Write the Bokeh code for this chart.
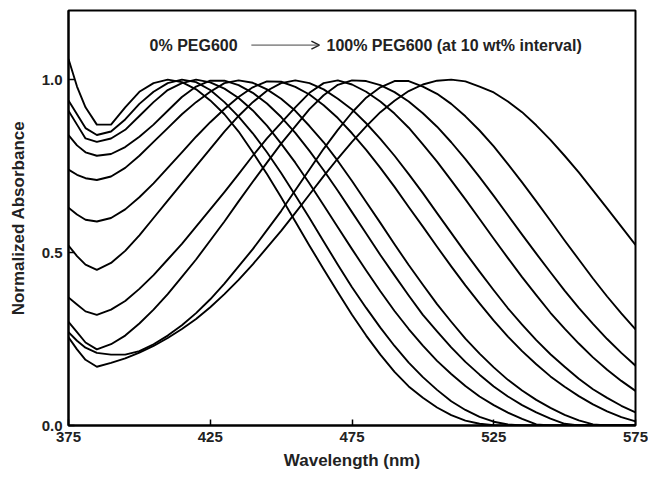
from bokeh.plotting import figure
from bokeh.models import Range1d, FixedTicker, Arrow, OpenHead, Label
from bokeh.embed import file_html
from bokeh.resources import INLINE

# ---- data ----
wavelength = [375, 378, 381, 385, 390, 395, 400, 405, 410, 415, 420, 425, 430, 435, 440,
              445, 450, 455, 460, 465, 470, 475, 480, 485, 490, 495, 500, 505, 510, 515,
              520, 525, 530, 535, 540, 545, 550, 555, 560, 565, 570, 575]

peg_0 = [1.06, 0.98, 0.92, 0.87, 0.87, 0.92, 0.965, 0.99, 1.0, 0.993, 0.972, 0.94, 0.90, 0.85, 0.79,
         0.727, 0.66, 0.59, 0.52, 0.452, 0.385, 0.32, 0.26, 0.205, 0.155, 0.113, 0.08, 0.052, 0.03, 0.014,
         0.005, 0.001, 0, 0, 0, 0, 0, 0, 0, 0, 0, 0]
peg_10 = [0.94, 0.90, 0.86, 0.84, 0.85, 0.885, 0.93, 0.965, 0.99, 1.0, 0.993, 0.97, 0.935, 0.893, 0.845,
          0.79, 0.73, 0.666, 0.60, 0.532, 0.465, 0.40, 0.34, 0.283, 0.23, 0.182, 0.14, 0.103, 0.07, 0.045,
          0.025, 0.011, 0.003, 0, 0, 0, 0, 0, 0, 0, 0, 0]
peg_20 = [0.91, 0.87, 0.83, 0.82, 0.83, 0.855, 0.895, 0.935, 0.97, 0.99, 1.0, 0.992, 0.974, 0.947, 0.911,
          0.867, 0.815, 0.76, 0.70, 0.637, 0.573, 0.51, 0.448, 0.388, 0.331, 0.279, 0.231, 0.187, 0.149, 0.114,
          0.084, 0.059, 0.037, 0.019, 0.003, 0, 0, 0, 0, 0, 0, 0]
peg_30 = [0.84, 0.81, 0.79, 0.78, 0.785, 0.805, 0.835, 0.87, 0.91, 0.95, 0.98, 0.997, 0.997, 0.984, 0.962,
          0.931, 0.892, 0.846, 0.794, 0.738, 0.679, 0.617, 0.555, 0.493, 0.434, 0.376, 0.32, 0.272, 0.226, 0.184,
          0.147, 0.113, 0.084, 0.059, 0.038, 0.02, 0.005, 0, 0, 0, 0, 0]
peg_40 = [0.74, 0.725, 0.715, 0.71, 0.72, 0.745, 0.78, 0.82, 0.86, 0.90, 0.935, 0.965, 0.99, 0.998, 0.991,
          0.972, 0.945, 0.91, 0.866, 0.819, 0.765, 0.707, 0.646, 0.586, 0.524, 0.464, 0.407, 0.351, 0.30, 0.251,
          0.208, 0.168, 0.132, 0.101, 0.074, 0.051, 0.031, 0.015, 0.003, 0, 0, 0]
peg_50 = [0.63, 0.61, 0.595, 0.59, 0.60, 0.625, 0.66, 0.70, 0.745, 0.79, 0.835, 0.877, 0.915, 0.95, 0.978,
          0.995, 0.994, 0.979, 0.957, 0.926, 0.889, 0.845, 0.797, 0.745, 0.69, 0.632, 0.575, 0.517, 0.46, 0.405,
          0.353, 0.303, 0.257, 0.215, 0.177, 0.142, 0.112, 0.085, 0.061, 0.041, 0.024, 0.012]
peg_60 = [0.52, 0.49, 0.465, 0.45, 0.47, 0.505, 0.55, 0.60, 0.65, 0.70, 0.75, 0.80, 0.85, 0.895, 0.935,
          0.968, 0.99, 0.998, 0.99, 0.972, 0.945, 0.914, 0.874, 0.829, 0.78, 0.727, 0.672, 0.614, 0.557, 0.50,
          0.445, 0.391, 0.339, 0.292, 0.247, 0.206, 0.17, 0.135, 0.105, 0.08, 0.057, 0.038]
peg_70 = [0.37, 0.35, 0.33, 0.32, 0.335, 0.36, 0.395, 0.435, 0.48, 0.525, 0.575, 0.625, 0.675, 0.727, 0.78,
          0.83, 0.875, 0.92, 0.962, 0.99, 0.998, 0.986, 0.965, 0.937, 0.902, 0.861, 0.813, 0.763, 0.709, 0.654,
          0.597, 0.54, 0.484, 0.429, 0.377, 0.326, 0.28, 0.237, 0.197, 0.161, 0.129, 0.10]
peg_80 = [0.30, 0.27, 0.24, 0.22, 0.235, 0.26, 0.295, 0.335, 0.38, 0.43, 0.48, 0.535, 0.59, 0.648, 0.705,
          0.76, 0.815, 0.865, 0.915, 0.955, 0.985, 0.998, 0.996, 0.984, 0.964, 0.937, 0.903, 0.864, 0.819, 0.77,
          0.718, 0.664, 0.608, 0.552, 0.497, 0.443, 0.39, 0.34, 0.294, 0.25, 0.21, 0.173]
peg_90 = [0.27, 0.245, 0.225, 0.21, 0.205, 0.205, 0.215, 0.235, 0.26, 0.29, 0.325, 0.365, 0.41, 0.46, 0.51,
          0.565, 0.62, 0.68, 0.74, 0.80, 0.855, 0.905, 0.948, 0.978, 0.996, 0.996, 0.98, 0.959, 0.93, 0.894,
          0.853, 0.807, 0.756, 0.703, 0.648, 0.592, 0.535, 0.48, 0.425, 0.373, 0.324, 0.278]
peg_100 = [0.255, 0.22, 0.19, 0.17, 0.181, 0.194, 0.211, 0.23, 0.253, 0.279, 0.308, 0.342, 0.38, 0.421, 0.466,
           0.514, 0.563, 0.615, 0.668, 0.721, 0.772, 0.82, 0.865, 0.906, 0.939, 0.967, 0.986, 0.997, 1.0, 0.995,
           0.98, 0.963, 0.937, 0.906, 0.868, 0.826, 0.78, 0.732, 0.68, 0.628, 0.575, 0.522]

series = [peg_0, peg_10, peg_20, peg_30, peg_40, peg_50, peg_60, peg_70, peg_80, peg_90, peg_100]

x_ticks = [375, 425, 475, 525, 575]
y_ticks = [0.0, 0.5, 1.0]
y_tick_labels = {0.0: "0.0", 0.5: "0.5", 1.0: "1.0"}

label_left = "0% PEG600"
label_right = "100% PEG600 (at 10 wt% interval)"

# ---- figure ----
FONT = "Liberation Sans"
p = figure(width=648, height=480, output_backend="svg", toolbar_location=None,
           x_range=Range1d(375, 575), y_range=Range1d(0, 1.2),
           min_border_left=68, min_border_right=13, min_border_top=10, min_border_bottom=55)

for s in series:
    p.line(wavelength, s, line_color="black", line_width=1.9, line_join="round")

p.xgrid.visible = False
p.ygrid.visible = False
p.outline_line_color = "black"
p.outline_line_width = 2
p.background_fill_color = "white"
p.border_fill_color = "white"

p.xaxis.ticker = FixedTicker(ticks=x_ticks)
p.yaxis.ticker = FixedTicker(ticks=y_ticks)
p.yaxis.major_label_overrides = y_tick_labels
for ax in (p.xaxis, p.yaxis):
    ax.axis_line_width = 2
    ax.axis_line_color = "black"
    ax.major_tick_in = 6
    ax.major_tick_out = 0
    ax.major_tick_line_width = 1.5
    ax.minor_tick_line_color = None
    ax.major_label_text_font = FONT
    ax.major_label_text_font_size = "15px"
    ax.major_label_text_font_style = "bold"
    ax.major_label_text_color = "#222222"
    ax.axis_label_text_font = FONT
    ax.axis_label_text_font_size = "17px"
    ax.axis_label_text_font_style = "bold"
    ax.axis_label_text_color = "#222222"

p.xaxis.major_label_standoff = 6
p.yaxis.major_label_standoff = 6
p.xaxis.axis_label = "Wavelength (nm)"
p.yaxis.axis_label = "Normalized Absorbance"
p.xaxis.axis_label_standoff = 6
p.yaxis.axis_label_standoff = 11

# annotation: 0% -> 100% arrow
ANN_Y = 1.10
p.add_layout(Label(x=403.6, y=ANN_Y, text=label_left, text_font=FONT, text_font_size="16px",
                   text_font_style="bold", text_baseline="middle", text_color="#222222"))
p.add_layout(Arrow(x_start=439.5, y_start=ANN_Y, x_end=463.5, y_end=ANN_Y,
                   line_color="#444444", line_width=1,
                   end=OpenHead(size=8, line_color="#222222", line_width=1.5)))
p.add_layout(Label(x=466.0, y=ANN_Y, text=label_right, text_font=FONT, text_font_size="16px",
                   text_font_style="bold", text_baseline="middle", text_color="#222222"))

open("out.html", "w").write(file_html(p, INLINE))
